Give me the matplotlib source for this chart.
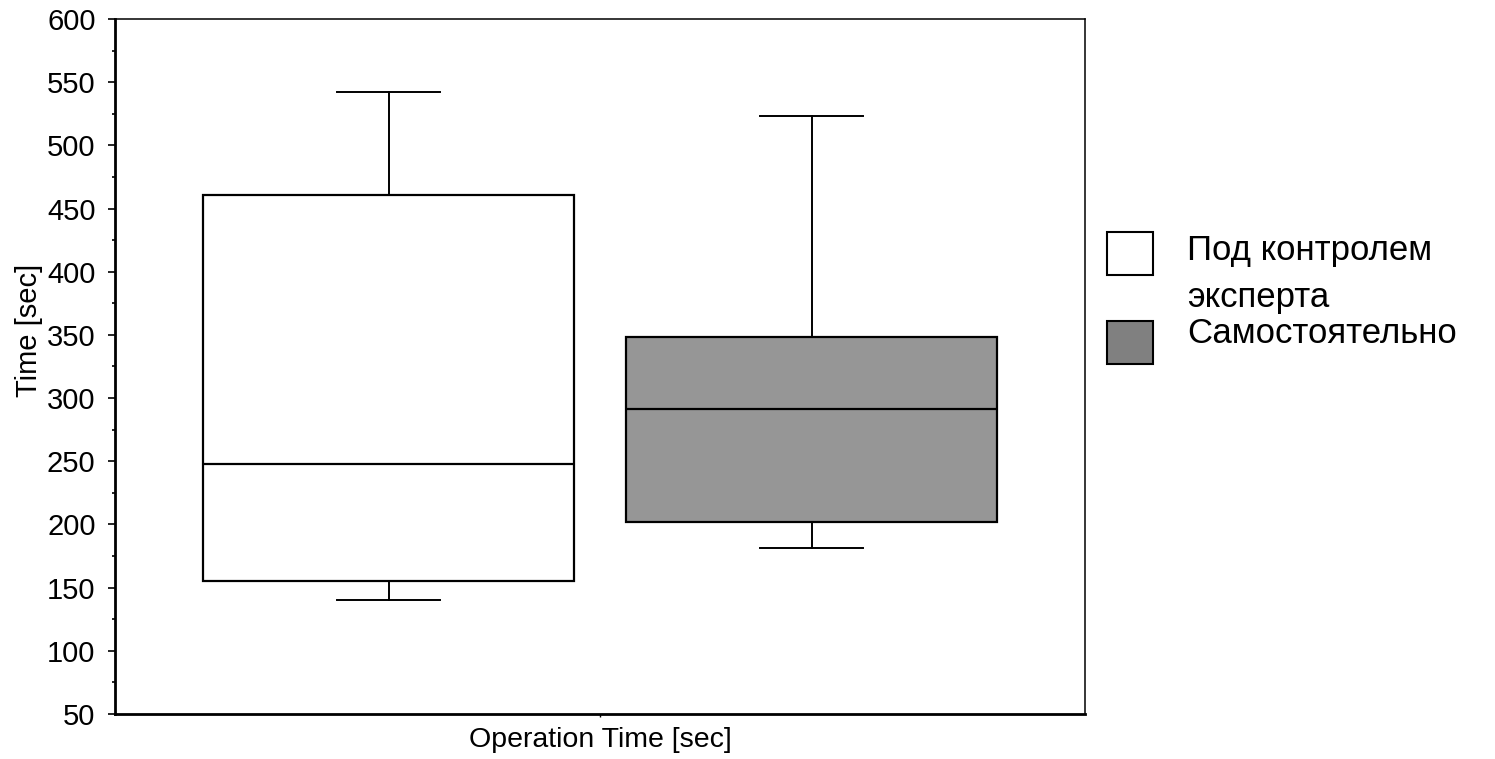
#!/usr/bin/env python3
"""Box plot of operation time: under expert control vs on one's own."""

import matplotlib

matplotlib.use("Agg")
import matplotlib.pyplot as plt
from matplotlib.patches import Rectangle
from matplotlib.ticker import MultipleLocator

# values (seconds)
groups = ["Под контролем\nэксперта", "Самостоятельно"]
whisker_low = [140, 181]
q1 = [155, 202]
median = [248, 291]
q3 = [461, 348]
whisker_high = [542, 523]
box_colors = ["#ffffff", "#969696"]
legend_colors = ["#ffffff", "#808080"]
x_label = "Operation Time [sec]"
y_label = "Time [sec]"

plt.rcParams["font.family"] = ["Liberation Sans", "DejaVu Sans"]

fig = plt.figure(figsize=(14.95, 7.59), dpi=100)
ax = fig.add_axes([0.0769, 0.0593, 0.6489, 0.9157])

stats = []
for i in range(len(groups)):
    stats.append(
        {
            "whislo": whisker_low[i],
            "q1": q1[i],
            "med": median[i],
            "q3": q3[i],
            "whishi": whisker_high[i],
            "fliers": [],
        }
    )

bp = ax.bxp(
    stats,
    positions=[0.282, 0.718],
    widths=0.382,
    capwidths=0.107,
    patch_artist=True,
    showfliers=False,
    boxprops=dict(linewidth=1.6, edgecolor="black"),
    medianprops=dict(color="black", linewidth=1.6),
    whiskerprops=dict(color="black", linewidth=1.4),
    capprops=dict(color="black", linewidth=1.4),
    manage_ticks=False,
)
for patch, color in zip(bp["boxes"], box_colors):
    patch.set_facecolor(color)

ax.set_xlim(0, 1)
ax.set_ylim(50, 600)
ax.set_xticks([0.5])
ax.set_xticklabels([""])
ax.yaxis.set_major_locator(MultipleLocator(50))
ax.yaxis.set_minor_locator(MultipleLocator(25))
ax.tick_params(axis="y", which="major", length=5, width=1.2, pad=9, labelsize=21)
ax.tick_params(axis="y", which="minor", length=2, width=1.2)
ax.tick_params(axis="x", which="major", length=2, width=1)

for side in ["left", "bottom"]:
    ax.spines[side].set_linewidth(2)
for side in ["top", "right"]:
    ax.spines[side].set_linewidth(1.1)

ax.set_xlabel(x_label, fontsize=20.5, labelpad=4)
ax.set_ylabel(y_label, fontsize=21)
ax.yaxis.set_label_coords(-0.074, 0.5525)

# legend drawn by hand so the multi-line label sits beside the first swatch
swatch_y = [0.6377, 0.5204]
baselines = [[0.6574, 0.596], [0.5477]]
for color, label, y0, lines_y in zip(legend_colors, groups, swatch_y, baselines):
    fig.patches.append(
        Rectangle(
            (0.7405, y0),
            0.0308,
            0.0567,
            transform=fig.transFigure,
            facecolor=color,
            edgecolor="black",
            linewidth=1.5,
        )
    )
    for line, yb in zip(label.split("\n"), lines_y):
        fig.text(0.794, yb, line, fontsize=25, va="baseline", ha="left")

fig.savefig("out.png", dpi=100)
